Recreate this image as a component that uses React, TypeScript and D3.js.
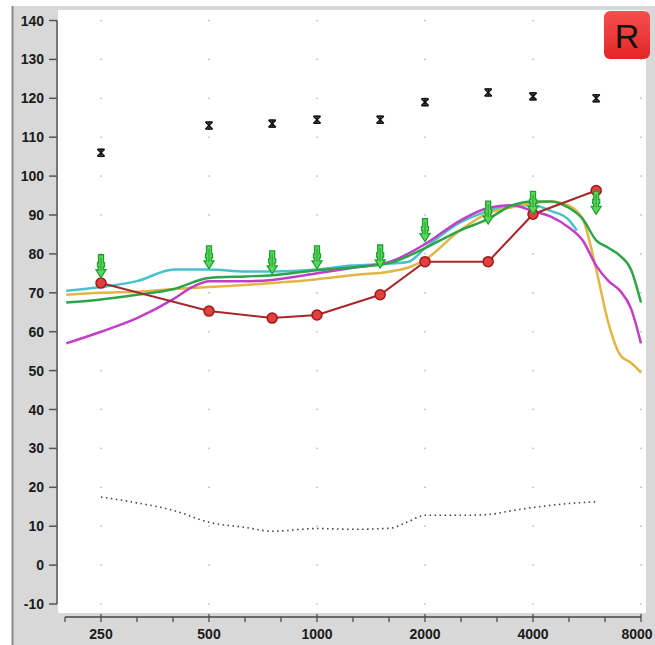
import React from "react";
import * as d3 from "d3";

const yTicks = [-10, 0, 10, 20, 30, 40, 50, 60, 70, 80, 90, 100, 110, 120, 130, 140];
const xTickFreqs = [250, 500, 1000, 2000, 4000, 8000];
const xTickLabels = ["250", "500", "1000", "2000", "4000", "8000"];

const cyanF = [200, 250, 315, 400, 500, 630, 750, 1000, 1250, 1600, 1800, 2000, 2500, 3000, 3500, 4000, 4500, 5000, 5300];
const cyanV = [70.5, 71.5, 73, 76, 76, 75.5, 75.5, 76, 77, 77.5, 78, 81.5, 88, 91, 92.5, 92.5, 91, 89, 86];

const yellowF = [200, 250, 315, 400, 500, 630, 750, 1000, 1250, 1600, 1800, 2000, 2500, 3000, 3500, 4000, 4500, 5000, 5500, 6000, 6500, 7000, 7500, 8000];
const yellowV = [69.5, 70, 70.3, 71, 71.5, 72, 72.5, 73.5, 74.5, 75.5, 76.5, 78.5, 86, 90.5, 92, 93, 93.5, 92.5, 89, 76, 62, 54, 52, 49.5];

const greenF = [200, 250, 315, 400, 500, 630, 750, 1000, 1250, 1600, 2000, 2500, 3000, 3500, 4000, 4500, 5000, 5500, 6000, 6500, 7000, 7500, 8000];
const greenV = [67.5, 68.3, 69.5, 71, 73.8, 74.2, 74.5, 75.8, 76.5, 77.7, 81.5, 86, 89, 92.5, 93.5, 93.5, 92, 89, 83.5, 81.5, 79.5, 76, 67.5];

const magentaF = [200, 250, 315, 400, 450, 500, 630, 750, 1000, 1250, 1600, 2000, 2500, 3000, 3500, 4000, 4500, 5000, 5500, 6000, 6500, 7000, 7500, 8000];
const magentaV = [57, 60, 63.5, 68.5, 71.5, 73, 73, 73.3, 75, 76.4, 78, 82.5, 88.5, 91.8, 92.5, 91, 89.5, 87, 83.5, 77, 73, 70.5, 66, 57];

const pointF = [250, 500, 750, 1000, 1500, 2000, 3000, 4000, 6000];
const thresholdV = [72.5, 65.3, 63.5, 64.3, 69.5, 78, 78, 90.2, 96.3];
const arrowV = [76.7, 79, 77.7, 79, 79.2, 86, 90.5, 93, 93];
const uclV = [106, 113, 113.5, 114.5, 114.5, 119, 121.5, 120.5, 120];

const noiseF = [250, 315, 400, 500, 630, 750, 1000, 1250, 1600, 1800, 2000, 2500, 3000, 3500, 4000, 5000, 6000];
const noiseV = [17.5, 16, 14, 11, 9.7, 8.7, 9.4, 9.2, 9.5, 11.2, 12.8, 12.8, 13, 14, 14.8, 15.8, 16.3];

const W = 655;
const H = 645;

export default function App() {
  const x = d3.scaleLog().domain([250, 8000]).range([101, 641]);
  const y = d3.scaleLinear().domain([-10, 140]).range([604, 20.5]);

  const line = d3
    .line<[number, number]>()
    .x((d) => x(d[0]))
    .y((d) => y(d[1]))
    .curve(d3.curveMonotoneX);
  const straight = d3
    .line<[number, number]>()
    .x((d) => x(d[0]))
    .y((d) => y(d[1]));

  const zip = (f: number[], v: number[]) => f.map((ff, i) => [ff, v[i]] as [number, number]);

  const thirdTicks: number[] = [];
  for (let k = -1; k <= 15; k++) thirdTicks.push(250 * Math.pow(2, k / 3));

  const gridDots: [number, number][] = [];
  xTickFreqs.forEach((f) => yTicks.forEach((v) => gridDots.push([f, v])));

  const arrowPath = "M-2.5,-12 L2.5,-12 L2.5,-4 L3.5,-4 L3.5,0 L2.5,0 L2.5,3 L5,3 L0,11 L-5,3 L-2.5,3 L-2.5,0 L-3.5,0 L-3.5,-4 L-2.5,-4 Z";

  return (
    <svg
      width={W}
      height={H}
      style={{ position: "absolute", left: 0, top: 0, background: "#ffffff" }}
      fontFamily="'Liberation Sans', Arial, sans-serif"
    >
      <defs>
        <linearGradient id="rgrad" x1="0" y1="0" x2="0" y2="1">
          <stop offset="0" stopColor="#f45050" />
          <stop offset="1" stopColor="#e22626" />
        </linearGradient>
      </defs>
      <rect x={12} y={6} width={W - 12} height={H - 6} fill="#d8d8d8" />
      <line x1={12.5} y1={6} x2={12.5} y2={H} stroke="#8a8a8a" strokeWidth={2} />
      <rect x={58} y={10} width={588} height={603} fill="#ffffff" />

      {gridDots.map((d, i) => (
        <rect key={i} x={x(d[0]) - 0.75} y={y(d[1]) - 0.75} width={1.5} height={1.5} fill="#b8b8b8" />
      ))}

      <line x1={57} y1={y(140)} x2={57} y2={y(-10)} stroke="#555" strokeWidth={1.5} />
      {yTicks.map((t) => (
        <g key={t}>
          <line x1={49} x2={57} y1={y(t)} y2={y(t)} stroke="#555" strokeWidth={1.5} />
          <text x={44} y={y(t)} dy="0.36em" textAnchor="end" fontSize={14} fontWeight="bold" fill="#1a1a1a">
            {t}
          </text>
        </g>
      ))}

      <line x1={x(thirdTicks[0])} x2={x(8000)} y1={617} y2={617} stroke="#444" strokeWidth={1.5} />
      {thirdTicks.map((f, i) => (
        <line key={i} x1={x(f)} x2={x(f)} y1={i % 3 === 1 ? 614 : 617} y2={622} stroke="#444" strokeWidth={1.2} />
      ))}
      {xTickFreqs.map((f, i) => (
        <text
          key={f}
          x={Math.min(x(f), W - 18)}
          y={639}
          textAnchor="middle"
          fontSize={14}
          fontWeight="bold"
          fill="#1a1a1a"
        >
          {xTickLabels[i]}
        </text>
      ))}

      <path
        d={line(zip(noiseF, noiseV)) || ""}
        fill="none"
        stroke="#444"
        strokeWidth={1.6}
        strokeDasharray="1.5 3.5"
      />

      <path d={line(zip(cyanF, cyanV)) || ""} fill="none" stroke="#46c2cc" strokeWidth={2.5} />
      <path d={line(zip(yellowF, yellowV)) || ""} fill="none" stroke="#e2b646" strokeWidth={2.5} />
      <path d={line(zip(magentaF, magentaV)) || ""} fill="none" stroke="#c23ec8" strokeWidth={2.5} />
      <path d={line(zip(greenF, greenV)) || ""} fill="none" stroke="#2ea448" strokeWidth={2.5} />

      <path d={straight(zip(pointF, thresholdV)) || ""} fill="none" stroke="#a62828" strokeWidth={2} />
      {pointF.map((f, i) => (
        <circle key={f} cx={x(f)} cy={y(thresholdV[i])} r={5} fill="#e04040" stroke="#a01818" strokeWidth={1.5} />
      ))}

      {pointF.map((f, i) => (
        <g key={f} transform={`translate(${x(f)},${y(arrowV[i])})`}>
          <path d={arrowPath} fill="#5ad85a" stroke="#22a032" strokeWidth={1.3} />
          <line x1={0} x2={0} y1={-9} y2={4} stroke="#1a8a28" strokeWidth={0.8} />
        </g>
      ))}

      {pointF.map((f, i) => (
        <g key={f} transform={`translate(${x(f)},${y(uclV[i])})`} stroke="#111" strokeWidth={1.6}>
          <line x1={-3.5} y1={-3.5} x2={3.5} y2={3.5} />
          <line x1={-3.5} y1={3.5} x2={3.5} y2={-3.5} />
          <line x1={-3.5} y1={-3.5} x2={3.5} y2={-3.5} />
          <line x1={-3.5} y1={3.5} x2={3.5} y2={3.5} />
          <line x1={0} y1={-4} x2={0} y2={4} />
        </g>
      ))}

      <rect x={604} y={11} width={46} height={48} rx={6} fill="url(#rgrad)" />
      <text x={627} y={48} textAnchor="middle" fontSize={34} fill="#111">
        R
      </text>
    </svg>
  );
}
